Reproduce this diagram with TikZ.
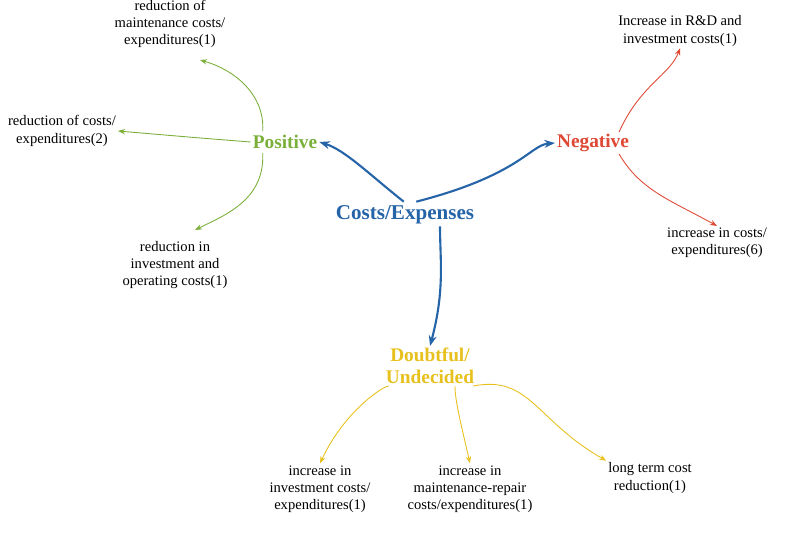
\documentclass[tikz,border=0pt]{standalone}
\usepackage{fontspec}
\setmainfont{Liberation Serif}
\usetikzlibrary{arrows.meta}
\definecolor{cblue}{RGB}{38,100,168}
\definecolor{cgreen}{RGB}{122,176,58}
\definecolor{cred}{RGB}{222,72,52}
\definecolor{cyel}{RGB}{232,192,30}
\begin{document}
\begin{tikzpicture}[x=0.02cm,y=-0.02cm,
    leaf/.style={align=center,font=\fontsize{8.3}{9.8}\selectfont,inner sep=1pt},
    head/.style={align=center,font=\fontsize{11}{12.5}\selectfont\bfseries,inner sep=1pt},
    mainarrow/.style={cblue,line width=1.2pt,-{Stealth[length=6pt]}},
    subarrow/.style={line width=0.5pt,-{Stealth[length=4pt]}}]
    \useasboundingbox (0,0) rectangle (786,532);
    % centre and branches
    \node [head,text=cblue,font=\fontsize{12}{14}\selectfont\bfseries] (costs) at (405,215) {Costs/Expenses};
    \node [head,text=cgreen] (pos) at (285,142) {Positive};
    \node [head,text=cred] (neg) at (593,143) {Negative};
    \node [head,text=cyel] (doubt) at (430,366) {Doubtful/\\Undecided};
    % leaves
    \node [leaf] (p1) at (170,24) {reduction of\\maintenance costs/\\expenditures(1)};
    \node [leaf] (p2) at (62,131) {reduction of costs/\\expenditures(2)};
    \node [leaf] (p3) at (175,265) {reduction in\\investment and\\operating costs(1)};
    \node [leaf] (n1) at (680,31) {Increase in R\&D and\\investment costs(1)};
    \node [leaf] (n2) at (717,243) {increase in costs/\\expenditures(6)};
    \node [leaf] (d1) at (320,489) {increase in\\investment costs/\\expenditures(1)};
    \node [leaf] (d2) at (470,489) {increase in\\maintenance-repair\\costs/expenditures(1)};
    \node [leaf] (d3) at (650,478) {long term cost\\reduction(1)};
    % main arrows
    \draw [mainarrow] (costs.north west) ++(70,-2) .. controls (370,175) and (345,150) .. (pos.east);
    \draw [mainarrow] (costs.north east) ++(-60,-2) .. controls (520,175) and (530,145) .. (neg.west);
    \draw [mainarrow] (costs.south) ++(35,0) .. controls (440,260) and (445,290) .. (doubt.north);
    % positive
    \draw [subarrow,cgreen] (pos.north west) ++(12,-2) .. controls (265,95) and (235,70) .. (200,60);
    \draw [subarrow,cgreen] (pos.west) .. controls (200,138) .. (p2.east);
    \draw [subarrow,cgreen] (pos.south west) ++(12,2) .. controls (265,200) and (225,215) .. (195,230);
    % negative
    \draw [subarrow,cred] (neg.north east) ++(-12,0) .. controls (640,85) and (670,75) .. (n1.south);
    \draw [subarrow,cred] (neg.south east) ++(-12,0) .. controls (640,190) and (670,200) .. (n2.north);
    % doubtful
    \draw [subarrow,cyel] (doubt.south west) ++(5,0) .. controls (385,385) and (345,410) .. (d1.north);
    \draw [subarrow,cyel] (doubt.south) ++(25,0) .. controls (455,400) and (460,420) .. (d2.north);
    \draw [subarrow,cyel] (doubt.south east) ++(-3,0) .. controls (530,375) and (535,420) .. (d3.north west);
\end{tikzpicture}
\end{document}
